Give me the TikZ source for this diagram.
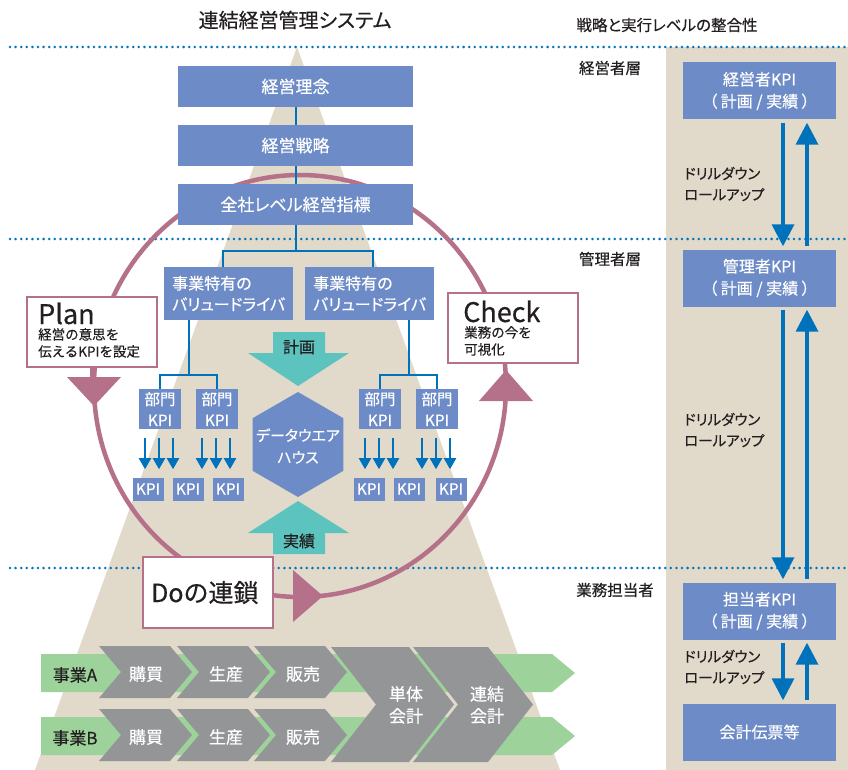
\documentclass[tikz,border=0pt]{standalone}
\usepackage{fontspec}
\setmainfont{Noto Sans CJK JP}[FakeBold=0.4]
\usetikzlibrary{arrows.meta,shapes.geometric}
\newcommand\myfs[2]{\fontsize{#1}{#2}\selectfont}
\newcommand\mypalt{\addfontfeature{RawFeature=+palt}}
\definecolor{boxblue}{RGB}{109,140,199}
\definecolor{lineblue}{RGB}{0,114,188}
\definecolor{beige}{RGB}{225,218,202}
\definecolor{mauve}{RGB}{181,112,138}
\definecolor{tealc}{RGB}{92,195,190}
\definecolor{greenc}{RGB}{157,211,155}
\definecolor{chevgray}{RGB}{147,149,151}
\definecolor{ink}{RGB}{35,31,32}
\begin{document}
\begin{tikzpicture}[x=1pt,y=-1pt,
  bbox/.style={fill=boxblue,text=white,inner sep=0pt,align=center},
  pbox/.style={draw=mauve,line width=2.5pt,fill=white,inner sep=0pt},
  bline/.style={draw=lineblue,line width=2pt},
  bigarr/.style={draw=lineblue,line width=3.5pt,-{Triangle[width=22pt,length=22pt]},shorten <=3pt,shorten >=3pt},
  sarr/.style={draw=lineblue,line width=2pt,-{Triangle[width=12pt,length=11pt]}},
  dotline/.style={draw=lineblue,line width=2.8pt,line cap=round,dash pattern=on 0pt off 5.6pt},
  lbl/.style={text=ink,inner sep=0pt},
  wlbl/.style={text=white,inner sep=0pt},
  chevfill/.style={fill=chevgray},
  cyc/.style={draw=mauve,line width=4.5pt},
  tealfill/.style={fill=tealc},
]
\useasboundingbox (0,0) rectangle (848,770);
\fill[white] (0,0) rectangle (848,770);
% backgrounds
\fill[beige] (666,47) rectangle (848,770);
\fill[beige] (297,47) -- (35,770) -- (560,770) -- cycle;
\foreach \yy in {47,239,568} {\draw[dotline] (10,\yy) -- (848,\yy);}
% titles
\node[lbl,font=\myfs{20}{20}\mypalt] (title) at (295,20) {連結経営管理システム};
\node[lbl,font=\myfs{15.5}{16}\mypalt] (title2) at (667,25) {戦略と実行レベルの整合性};
\node[lbl,font=\myfs{15.5}{16}] (lay1) at (610,68) {経営者層};
\node[lbl,font=\myfs{15.5}{16}] (lay2) at (610,259) {管理者層};
\node[lbl,font=\myfs{15.5}{16}] (lay3) at (615,590) {業務担当者};
% bottom bands
\fill[greenc] (41,654) -- (552,654) -- (575,673) -- (552,692) -- (41,692) -- cycle;
\fill[greenc] (41,717) -- (552,717) -- (575,736) -- (552,755) -- (41,755) -- cycle;
\foreach \x in {99,177,254} {
  \fill[chevfill] (\x,646) -- ++(71,0) -- ++(22,26) -- ++(-22,26) -- ++(-71,0) -- ++(22,-26) -- cycle;
  \fill[chevfill] (\x,709) -- ++(71,0) -- ++(22,26) -- ++(-22,26) -- ++(-71,0) -- ++(22,-26) -- cycle;
}
\foreach \x/\w in {331/78,413/75} {
  \fill[chevfill] (\x,647) -- ++(\w,0) -- ++(45,57.5) -- ++(-45,57.5) -- ++(-\w,0) -- ++(45,-57.5) -- cycle;
}
\node[lbl,font=\myfs{17}{20}] (jA) at (75,675) {事業A};
\node[lbl,font=\myfs{17}{20}] (jB) at (75,738) {事業B};
\node[wlbl,font=\myfs{17}{20}] (a1) at (146,674) {購買};
\node[wlbl,font=\myfs{17}{20}] (a2) at (226,674) {生産};
\node[wlbl,font=\myfs{17}{20}] (a3) at (303,674) {販売};
\node[wlbl,font=\myfs{17}{20}] (b1) at (146,737) {購買};
\node[wlbl,font=\myfs{17}{20}] (b2) at (226,737) {生産};
\node[wlbl,font=\myfs{17}{20}] (b3) at (303,737) {販売};
\node[wlbl,align=center,font=\myfs{17}{22}] (tan) at (406,705) {単体\\会計};
\node[wlbl,align=center,font=\myfs{17}{22}] (ren) at (487,705) {連結\\会計};
% PDCA circle
\coordinate (cc) at (300,386);
\draw[cyc] (cc) ellipse[x radius=206pt,y radius=211pt];
\fill[mauve] (67,377) -- (121,377) -- (94,406) -- cycle;
\fill[mauve] (479,401) -- (533,401) -- (506,370) -- cycle;
\fill[mauve] (293,570) -- (293,622) -- (323,596) -- cycle;
% top boxes
\node[bbox,minimum width=235pt,minimum height=41pt,font=\myfs{17}{20}] (rinen) at (295.5,86.5) {経営理念};
\node[bbox,minimum width=235pt,minimum height=41pt,font=\myfs{17}{20}] (senr) at (295.5,145.5) {経営戦略};
\node[bbox,minimum width=235pt,minimum height=41pt,font=\myfs{17}{20}\mypalt] (shih) at (295.5,204.5) {全社レベル経営指標};
\draw[bline] (rinen.south) -- (senr.north);
\draw[bline] (senr.south) -- (shih.north);
% value drivers
\node[bbox,minimum width=129pt,minimum height=53pt] (vd1) at (228.5,293.5) {};
\node[bbox,minimum width=129pt,minimum height=53pt] (vd2) at (369.5,293.5) {};
\node[wlbl,anchor=west,align=left,font=\myfs{16}{21}\mypalt] (vd1t) at (172,293.5) {事業特有の\\バリュードライバ};
\node[wlbl,anchor=west,align=left,font=\myfs{16}{21}\mypalt] (vd2t) at (313,293.5) {事業特有の\\バリュードライバ};
\coordinate (ja) at (223,251);
\coordinate (jb) at (373,251);
\draw[bline] (shih.south) -- (shih.south |- ja);
\draw[bline] (ja |- vd1.north) -- (ja) -- (jb) -- (jb |- vd2.north);
% department KPI
\node[bbox,minimum width=42pt,minimum height=40pt,font=\myfs{15.5}{21}] (bu1) at (160,409) {部門\\KPI};
\node[bbox,minimum width=42pt,minimum height=40pt,font=\myfs{15.5}{21}] (bu2) at (217,409) {部門\\KPI};
\node[bbox,minimum width=42pt,minimum height=40pt,font=\myfs{15.5}{21}] (bu3) at (380,409) {部門\\KPI};
\node[bbox,minimum width=42pt,minimum height=40pt,font=\myfs{15.5}{21}] (bu4) at (437,409) {部門\\KPI};
\coordinate (jc) at (188.5,375);
\coordinate (jd) at (408.5,375);
\draw[bline] (vd1.south -| jc) -- (jc);
\draw[bline] (bu1.north) |- (jc) -| (bu2.north);
\draw[bline] (vd2.south -| jd) -- (jd);
\draw[bline] (bu3.north) |- (jd) -| (bu4.north);
\foreach \b in {bu1,bu2,bu3,bu4} {
  \foreach \dx in {-15,-1,13} {
    \draw[sarr] ([xshift=\dx pt,yshift=-9pt]\b.south) -- ++(0,31);
  }
}
\foreach \n/\x in {k1/148,k2/188,k3/228,k4/369,k5/409,k6/451} {
  \node[bbox,minimum width=31pt,minimum height=23pt,font=\myfs{15.5}{16}] (\n) at (\x,489) {KPI};
}
% data warehouse
\node[regular polygon,regular polygon sides=6,shape border rotate=90,minimum size=105pt,fill=boxblue,inner sep=0pt] (dwh) at (298,444.5) {};
\node[wlbl,align=center,font=\myfs{15}{22}\mypalt] (dwht) at (298,446) {データウエア\\ハウス};
% teal arrows
\fill[tealfill] (273,332) -- (325,332) -- (325,353) -- (349,353) -- (298,386) -- (248,353) -- (273,353) -- cycle;
\fill[tealfill] (298,501) -- (349,533) -- (325,533) -- (325,554) -- (273,554) -- (273,533) -- (248,533) -- cycle;
\node[lbl,font=\myfs{16}{16}] (keikaku) at (299,347) {計画};
\node[lbl,font=\myfs{16}{16}] (jisseki) at (299,541) {実績};
% Plan / Check / Do
\node[pbox,minimum width=130pt,minimum height=70pt] (plan) at (92,332) {};
\node[pbox,minimum width=130pt,minimum height=70pt] (check) at (513,328) {};
\node[pbox,minimum width=130pt,minimum height=71pt] (do) at (208,592.5) {};
\draw[mauve,line width=4.5pt] (plan.south -| 92,0) -- (92,379);
\node[lbl,anchor=base west,font=\myfs{27}{27}] (planT) at (38,324) {Plan};
\node[lbl,anchor=north west,align=left,font=\myfs{13.5}{17}] (planS) at (38,328) {経営の意思を\\伝えるKPIを設定};
\node[lbl,anchor=base west,font=\myfs{27}{27}] (checkT) at (463,322) {Check};
\node[lbl,anchor=north west,align=left,font=\myfs{13.5}{17}] (checkS) at (464,326) {業務の今を\\可視化};
\node[lbl,anchor=base west,font=\myfs{25}{25}] (doT) at (151,602) {Doの連鎖};
% right panel
\node[bbox,minimum width=153pt,minimum height=57pt,font=\myfs{16}{22}] (kpiA) at (759.5,91) {経営者KPI\\（\hspace{3pt}計画 / 実績\hspace{3pt}）};
\node[bbox,minimum width=153pt,minimum height=57pt,font=\myfs{16}{22}] (kpiB) at (759.5,278) {管理者KPI\\（\hspace{3pt}計画 / 実績\hspace{3pt}）};
\node[bbox,minimum width=153pt,minimum height=57pt,font=\myfs{16}{22}] (kpiC) at (759.5,611) {担当者KPI\\（\hspace{3pt}計画 / 実績\hspace{3pt}）};
\node[bbox,minimum width=153pt,minimum height=57pt,font=\myfs{16}{22}] (kpiD) at (759.5,732) {会計伝票等};
\draw[bigarr] ([xshift=23.5pt]kpiA.south) -- ([xshift=23.5pt]kpiB.north);
\draw[bigarr] ([xshift=47.5pt]kpiB.north) -- ([xshift=47.5pt]kpiA.south);
\draw[bigarr] ([xshift=23.5pt]kpiB.south) -- ([xshift=23.5pt]kpiC.north);
\draw[bigarr] ([xshift=47.5pt]kpiC.north) -- ([xshift=47.5pt]kpiB.south);
\draw[bigarr] ([xshift=23.5pt]kpiC.south) -- ([xshift=23.5pt]kpiD.north);
\draw[bigarr] ([xshift=47.5pt]kpiD.north) -- ([xshift=47.5pt]kpiC.south);
\node[lbl,anchor=west,align=left,font=\myfs{14.5}{21}\mypalt] (dr1) at (684,184) {ドリルダウン\\ロールアップ};
\node[lbl,anchor=west,align=left,font=\myfs{14.5}{21}\mypalt] (dr2) at (684,430) {ドリルダウン\\ロールアップ};
\node[lbl,anchor=west,align=left,font=\myfs{14.5}{21}\mypalt] (dr3) at (684,667) {ドリルダウン\\ロールアップ};
\end{tikzpicture}
\end{document}
